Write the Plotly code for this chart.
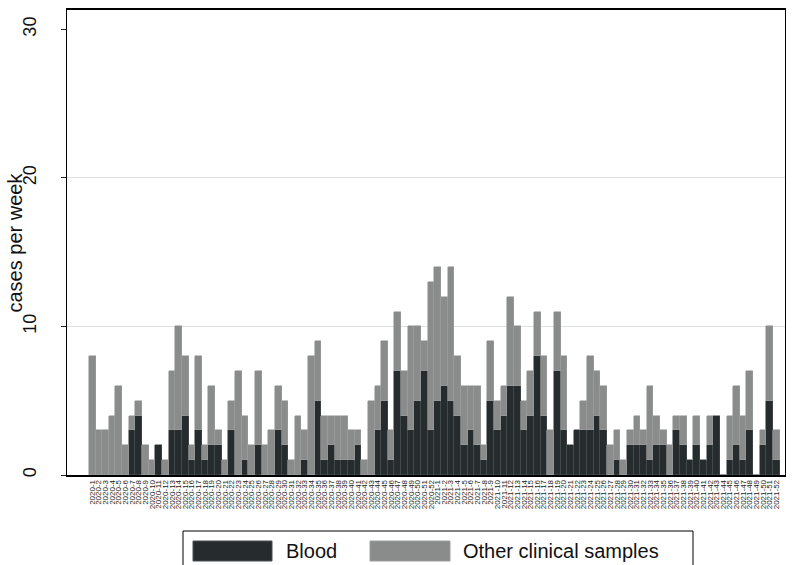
import plotly.graph_objects as go

years = [2020, 2021]
weeks_per_year = 52
week_labels = [f"{y}-{w}" for y in years for w in range(1, weeks_per_year + 1)]

blood = [0, 0, 0, 0, 0, 0, 3, 4, 0, 0, 2, 0, 3, 3, 4, 1, 3, 1, 2, 2,
         0, 3, 0, 1, 0, 2, 0, 0, 3, 2, 0, 0, 1, 0, 5, 1, 2, 1, 1, 1,
         2, 0, 0, 3, 5, 1, 7, 4, 3, 5, 7, 3, 5, 6, 5, 4, 2, 3, 2, 1,
         5, 3, 4, 6, 6, 3, 4, 8, 4, 0, 7, 3, 2, 3, 3, 3, 4, 3, 0, 1,
         0, 2, 2, 2, 1, 2, 2, 0, 3, 2, 1, 2, 1, 2, 4, 0, 1, 2, 1, 3,
         0, 2, 5, 1]
total = [8, 3, 3, 4, 6, 2, 4, 5, 2, 1, 2, 1, 7, 10, 8, 2, 8, 2, 6, 3,
         1, 5, 7, 4, 2, 7, 2, 3, 6, 5, 1, 4, 3, 8, 9, 4, 4, 4, 4, 3,
         3, 1, 5, 6, 9, 3, 11, 7, 10, 10, 9, 13, 14, 12, 14, 8, 6, 6, 6, 2,
         9, 5, 6, 12, 10, 5, 7, 11, 8, 3, 11, 8, 2, 3, 5, 8, 7, 6, 2, 3,
         1, 3, 4, 3, 6, 4, 3, 2, 4, 4, 1, 4, 1, 4, 4, 0, 4, 6, 4, 7,
         0, 3, 10, 3]
other = [t - b for t, b in zip(total, blood)]

y_ticks = [0, 10, 20, 30]
grid_vals = [10, 20]
series_names = ["Blood", "Other clinical samples"]
y_title = "cases per week"

DARK = "#262c2e"
GRAY = "#8a8c8c"

W, H = 795, 565
ML, MR, MT, MB = 67, 10, 10, 90
PW, PH = W - ML - MR, H - MT - MB

def px(x):
    return (x - ML) / PW

def py(y):
    return (H - MB - y) / PH

xs = list(range(len(week_labels)))

fig = go.Figure()
fig.add_trace(go.Bar(x=xs, y=blood, name=series_names[0], marker=dict(color=DARK, line=dict(color="#4a5052", width=0.6))))
fig.add_trace(go.Bar(x=xs, y=other, name=series_names[1], marker=dict(color=GRAY, line=dict(color="#9c9e9e", width=0.6))))

fig.update_layout(
    width=W, height=H,
    margin=dict(l=ML, r=MR, t=MT, b=MB, autoexpand=False),
    barmode="stack", bargap=0,
    plot_bgcolor="white", paper_bgcolor="white",
    showlegend=False,
    font=dict(family="Liberation Sans, Arial, sans-serif", color="#111"),
    xaxis=dict(
        range=[-3.8, 104.3], automargin=False,
        tickmode="array", tickvals=xs, ticktext=week_labels,
        tickangle=-90, tickfont=dict(size=8, color="#222"),
        ticks="", showgrid=False, zeroline=False,
        showline=True, linecolor="black", linewidth=1.5, mirror=True,
    ),
    yaxis=dict(
        range=[0, 31.3], automargin=False,
        tickmode="array", tickvals=y_ticks,
        tickangle=-90, tickfont=dict(size=18, color="#111"),
        ticks="outside", ticklen=5, tickcolor="#222",
        ticklabelstandoff=18,
        showgrid=False, zeroline=False,
        showline=True, linecolor="black", linewidth=1, mirror=True,
    ),
    yaxis2=dict(
        range=[0, 31.3], overlaying="y", side="left", automargin=False,
        tickmode="array", tickvals=grid_vals, showticklabels=False,
        showgrid=True, gridcolor="#dcdfdf", gridwidth=1.2, zeroline=False, showline=False,
    ),
)
fig.add_trace(go.Scatter(x=[xs[0]], y=[0], yaxis="y2", mode="markers", marker=dict(opacity=0), hoverinfo="skip", showlegend=False))

shapes = [
    dict(type="rect", xref="paper", yref="paper", x0=px(183), x1=px(693), y0=py(575), y1=py(531),
         line=dict(color="black", width=1), fillcolor="white"),
    dict(type="rect", xref="paper", yref="paper", x0=px(193), x1=px(272), y0=py(561), y1=py(541),
         line=dict(color="#4a5052", width=1), fillcolor=DARK),
    dict(type="rect", xref="paper", yref="paper", x0=px(370), x1=px(450), y0=py(561), y1=py(541),
         line=dict(color="#9c9e9e", width=1), fillcolor=GRAY),
]
fig.update_layout(shapes=shapes)
fig.add_annotation(xref="paper", yref="paper", x=px(14), y=0.5, text=y_title, showarrow=False, textangle=-90,
                   xanchor="center", yanchor="middle", font=dict(size=20, color="#111"))
fig.add_annotation(xref="paper", yref="paper", x=px(284), y=py(551), text=series_names[0], showarrow=False,
                   xanchor="left", yanchor="middle", font=dict(size=20, color="#111"))
fig.add_annotation(xref="paper", yref="paper", x=px(461), y=py(551), text=series_names[1], showarrow=False,
                   xanchor="left", yanchor="middle", font=dict(size=20, color="#111"))

fig.write_html("out.html", config={"displayModeBar": False},
               post_script="document.body.style.margin='0';document.body.style.padding='0';")
